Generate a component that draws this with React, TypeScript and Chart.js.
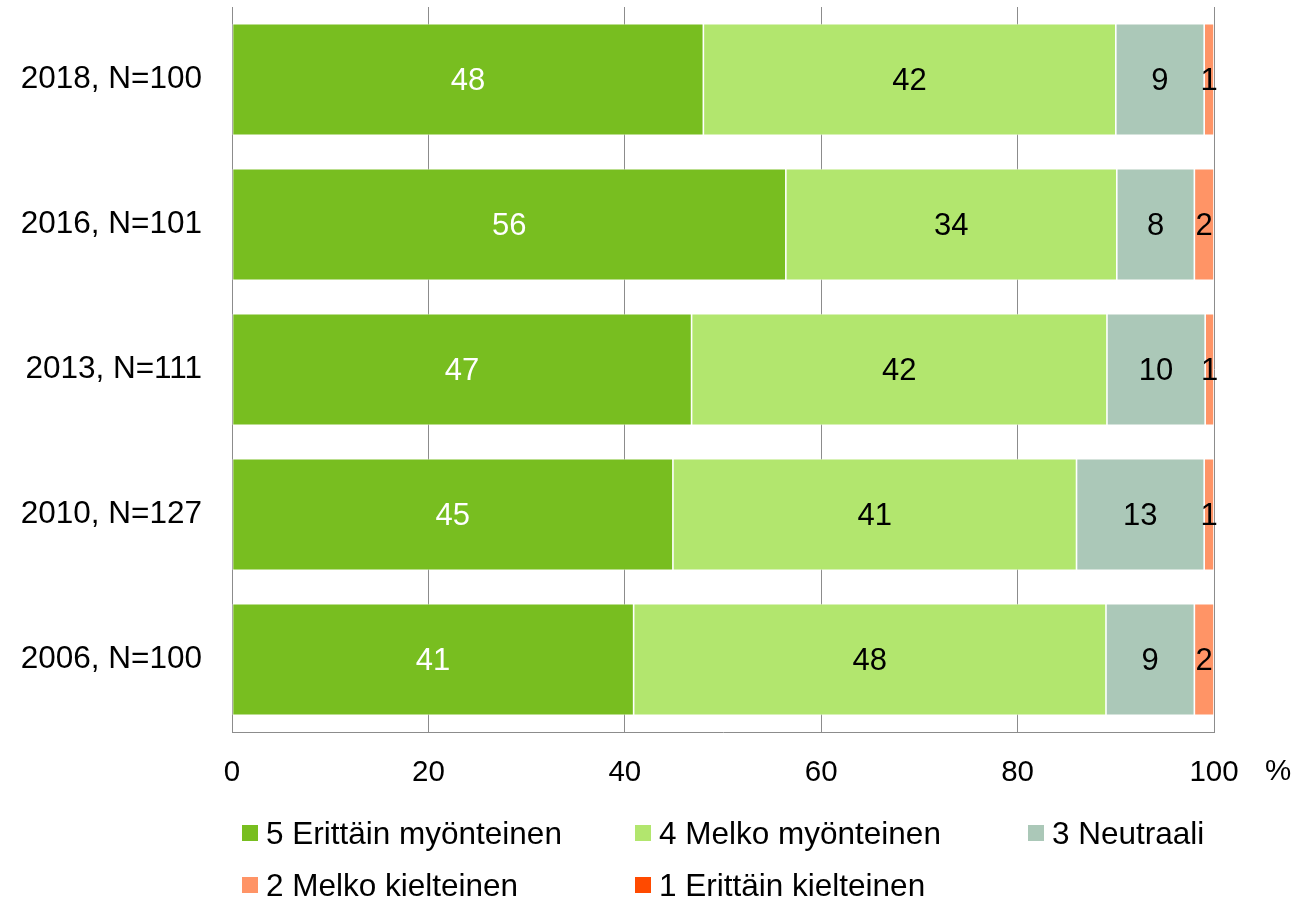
import React, { useEffect, useRef } from "react";
import { Chart, registerables } from "chart.js";

Chart.register(...registerables);

const categories = ["2018, N=100", "2016, N=101", "2013, N=111", "2010, N=127", "2006, N=100"];
const seriesNames = [
  "5 Erittäin myönteinen",
  "4 Melko myönteinen",
  "3 Neutraali",
  "2 Melko kielteinen",
  "1 Erittäin kielteinen",
];
const s5 = [48.0, 56.4, 46.8, 44.9, 40.9];
const s4 = [42.0, 33.7, 42.3, 41.1, 48.1];
const s3 = [9.0, 7.9, 10.0, 13.0, 9.0];
const s2 = [1.0, 2.0, 0.9, 1.0, 2.0];
const s1 = [0, 0, 0, 0, 0];
const seriesColors = ["#78BE20", "#B2E66E", "#ABC8B8", "#FF9466", "#FF4A00"];
const labelColors = ["#ffffff", "#000000", "#000000", "#000000", "#000000"];
const xTicks = [0, 20, 40, 60, 80, 100];

const FONT = "'Liberation Sans', Arial, Helvetica, sans-serif";

const dataLabelPlugin = {
  id: "segLabels",
  afterDatasetsDraw(chart: any) {
    const ctx = chart.ctx;
    ctx.save();
    ctx.font = `31px ${FONT}`;
    ctx.textAlign = "center";
    ctx.textBaseline = "middle";
    chart.data.datasets.forEach((ds: any, di: number) => {
      const meta = chart.getDatasetMeta(di);
      meta.data.forEach((el: any, i: number) => {
        const v = ds.data[i];
        if (!v) return;
        const cx = (el.x + el.base) / 2;
        ctx.fillStyle = labelColors[di];
        ctx.fillText(String(Math.round(v)), cx, el.y + 2);
      });
    });
    ctx.restore();
  },
};

export default function App() {
  const ref = useRef<HTMLCanvasElement | null>(null);
  useEffect(() => {
    if (!ref.current) return;
    const series = [s5, s4, s3, s2, s1];
    const chart = new Chart(ref.current, {
      type: "bar",
      data: {
        labels: categories,
        datasets: series.map((d, i) => ({
          label: seriesNames[i],
          data: d,
          backgroundColor: seriesColors[i],
          borderColor: "#ffffff",
          borderWidth: 0.8,
          borderSkipped: false,
          barPercentage: 0.77,
          categoryPercentage: 1,
        })),
      },
      options: {
        indexAxis: "y",
        animation: false,
        responsive: false,
        devicePixelRatio: 1,
        layout: { padding: { top: 7, right: 89, bottom: 0, left: 0 } },
        plugins: { legend: { display: false }, tooltip: { enabled: false } },
        scales: {
          x: {
            stacked: true,
            min: 0,
            max: 100,
            afterBuildTicks: (scale: any) => {
              scale.ticks = xTicks.map((v) => ({ value: v }));
            },
            ticks: {
              font: { family: FONT, size: 29.5 },
              color: "#000",
              padding: 23,
            },
            grid: { display: true, color: "#8c8c8c", lineWidth: 1, drawTicks: false },
            border: { display: true, color: "#8c8c8c", width: 1 },
            afterFit: (scale: any) => {
              scale.height = 166;
            },
          },
          y: {
            stacked: true,
            ticks: {
              font: { family: FONT, size: 31.5 },
              color: "#000",
              padding: 30,
            },
            grid: { display: false, drawTicks: false },
            border: { display: true, color: "#8c8c8c", width: 1 },
            afterFit: (scale: any) => {
              scale.width = 232;
              scale.paddingTop = 0;
              scale.paddingBottom = 0;
            },
          },
        },
      } as any,
      plugins: [dataLabelPlugin],
    });
    return () => chart.destroy();
  }, []);

  const legendPos = [
    [242, 833],
    [635, 833],
    [1028, 833],
    [242, 885],
    [635, 885],
  ];

  return (
    <div style={{ position: "absolute", left: 0, top: 0, width: 1303, height: 898, background: "#fff" }}>
      <canvas ref={ref} width={1303} height={898} style={{ display: "block" }} />
      <div
        style={{
          position: "absolute",
          left: 1265,
          top: 770 - 18,
          height: 36,
          lineHeight: "36px",
          fontFamily: FONT,
          fontSize: 29.5,
          color: "#000",
        }}
      >
        %
      </div>
      {seriesNames.map((name, i) => (
        <div
          key={name}
          style={{
            position: "absolute",
            left: legendPos[i][0],
            top: legendPos[i][1] - 18,
            height: 36,
            display: "flex",
            alignItems: "center",
            fontFamily: FONT,
            fontSize: 31.5,
            color: "#000",
            whiteSpace: "nowrap",
          }}
        >
          <span style={{ display: "inline-block", width: 16, height: 16, background: seriesColors[i], marginRight: 8 }} />
          <span>{name}</span>
        </div>
      ))}
    </div>
  );
}
